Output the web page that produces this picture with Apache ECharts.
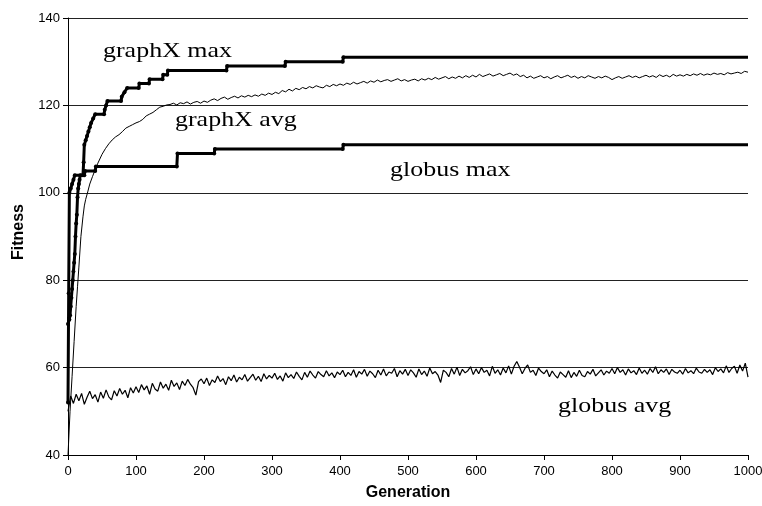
<!DOCTYPE html>
<html>
<head>
<meta charset="utf-8">
<title>Fitness vs Generation</title>
<script src="https://cdn.jsdelivr.net/npm/echarts/dist/echarts.min.js"></script>
<style>
  html, body { margin: 0; padding: 0; background: #fff; }
  #chart { width: 762px; height: 506px; }
</style>
</head>
<body>
<div id="chart"></div>
<script>
// x axis ticks
const genTicks = [0, 100, 200, 300, 400, 500, 600, 700, 800, 900, 1000];
const fitnessTicks = [40, 60, 80, 100, 120, 140];

// graphX max (start and end of each flat run)
const graphXMaxGen = [0, 2, 3, 4, 5, 6, 7, 8, 9, 10, 11, 12, 13, 14, 15, 16, 17, 18, 22, 23, 24, 26, 28, 30, 32, 34, 37, 40, 53, 54, 56, 58, 78, 79, 83, 87, 104, 105, 119, 120, 139, 140, 146, 147, 233, 234, 319, 320, 404, 405, 1000];
const graphXMaxVal = [70, 71, 72, 74, 76, 78, 80, 82, 84, 86, 90, 93, 95, 99, 101, 102, 103, 104, 104, 107, 111, 112, 113, 114, 115, 116, 117, 118, 118, 119, 120, 121, 121, 122, 123, 124, 124, 125, 125, 126, 126, 127, 127, 128, 128, 129, 129, 130, 130, 131, 131];

// globus max
const globusMaxGen = [0, 1, 2, 4, 6, 8, 10, 24, 25, 40, 41, 160, 161, 215, 216, 404, 405, 1000];
const globusMaxVal = [52, 77, 100, 101, 102, 103, 104, 104, 105, 105, 106, 106, 109, 109, 110, 110, 111, 111];

// graphX avg, early climb (irregular generations)
const graphXAvgEarlyGen = [0, 3, 6, 9, 12, 14, 16, 19, 22, 24, 26, 29, 32, 36, 40, 44, 50, 55, 60, 65, 70, 75, 80, 85, 90, 95, 100, 105, 110, 115, 120, 125, 130, 135, 140, 145];
const graphXAvgEarlyVal = [40, 50, 58, 66, 74, 78.5, 83, 90, 94.5, 97, 98.5, 100.2, 102, 103.7, 105.3, 106.8, 108.8, 110.1, 111.2, 112.1, 112.8, 113.3, 114.0, 114.8, 115.2, 115.6, 116.0, 116.3, 116.8, 117.6, 118.0, 118.4, 119.0, 119.6, 119.8, 120.1];
// graphX avg, every 5 generations from 150 to 1000
const graphXAvgLateStart = 150;
const graphXAvgLateStep = 5;
const graphXAvgLate = [
  120.2, 120.5, 120.1, 120.6, 120.4, 120.8, 120.3, 120.7, 120.9, 120.5, 121.0, 120.7, 121.2, 121.5, 121.1, 121.6, 121.9, 121.4, 121.8, 122.1, 121.7, 122.2, 121.9, 122.3, 122.0,
  122.4, 122.1, 122.6, 122.3, 122.8, 122.5, 123.0, 122.7, 123.4, 123.1, 123.7, 123.3, 123.9, 123.6, 124.1, 123.8, 124.3, 124.0, 124.5, 124.2, 124.0, 124.6, 124.3, 124.8, 124.5,
  124.9, 124.6, 125.1, 124.8, 125.3, 124.9, 125.2, 125.5, 125.1, 125.6, 125.3, 125.8, 125.4, 125.7, 125.9, 125.5, 125.8, 126.1, 125.6, 125.9, 125.5, 125.8, 126.0, 125.6, 126.1,
  125.8, 126.2, 125.9, 126.4, 126.0, 126.3, 126.6, 126.1, 126.5, 126.2, 126.7, 126.3, 126.8, 126.4, 126.9, 126.5, 127.1, 126.6, 126.9, 127.2, 126.7, 127.0, 127.3, 126.8, 127.1,
  127.4, 126.9, 127.2, 126.6, 126.9, 126.3, 126.7, 126.2, 126.5, 126.8, 126.3, 126.6, 126.1, 126.5, 126.8, 126.3, 126.6, 126.9, 126.4, 126.7, 126.2, 126.6, 126.3, 126.8, 126.5,
  126.2, 126.6, 126.3, 126.7, 126.4, 125.9, 126.3, 126.6, 126.2, 126.5, 126.8, 126.4, 126.7, 126.3, 126.6, 126.9, 126.5, 126.8, 126.4, 127.0, 126.6, 126.9, 126.5, 127.1, 126.7,
  127.0, 126.7, 127.1, 126.8, 127.2, 126.9, 127.3, 126.9, 127.2, 127.0, 127.4, 127.1, 127.3, 127.0, 127.5, 127.2, 127.4, 127.6, 127.3, 127.8, 127.6
];

// globus avg, every 4 generations from 0 to 1000
const globusAvgStep = 4;
const globusAvg = [
  50.0, 53.5, 51.8, 53.9, 52.4, 54.1, 51.6, 53.2, 54.6, 52.9, 53.8, 52.1, 54.4, 53.0, 54.9, 53.3, 52.6, 54.7, 53.5, 55.2, 53.9, 54.8, 53.1, 55.4, 54.2,
  55.6, 54.3, 56.1, 54.9, 55.8, 53.9, 56.4, 55.1, 54.6, 56.7, 55.3, 56.2, 54.8, 57.1, 55.7, 56.5, 55.0, 56.9, 55.9, 57.3, 56.2, 55.4, 53.7, 56.8, 57.4,
  56.3, 57.6, 55.9, 57.2, 56.6, 58.1, 56.8, 57.5, 56.1, 57.9, 57.0, 58.3, 56.7, 57.8, 57.2, 58.4, 56.9, 57.7, 58.5, 57.1, 58.0, 56.8, 58.6, 57.4, 58.2,
  57.6, 58.7, 57.3, 58.1, 56.9, 58.8, 57.7, 58.4, 57.5, 59.0, 58.0, 57.2, 58.9, 57.8, 59.2, 58.3, 57.6, 59.1, 58.4, 57.9, 59.3, 58.1, 58.8, 57.7, 59.0,
  58.4, 59.4, 57.9, 58.9, 58.2, 59.5, 57.8, 59.1, 58.5, 59.6, 58.0, 59.2, 58.6, 57.7, 59.4, 58.3, 59.7, 58.1, 59.0, 58.7, 59.8, 57.9, 59.3, 58.5, 59.6,
  58.2, 59.5, 58.8, 57.8, 59.7, 58.4, 59.2, 58.0, 59.9, 58.6, 59.1, 58.3, 56.6, 59.4, 58.9, 57.9, 59.8, 58.5, 60.1, 58.2, 59.6, 58.8, 59.3, 60.2, 58.4,
  59.7, 58.6, 60.0, 58.9, 59.4, 58.1, 60.3, 58.7, 59.5, 58.3, 59.9, 58.8, 60.4, 58.5, 60.3, 61.4, 60.1, 58.6, 59.8, 60.6, 58.9, 59.4, 58.2, 59.9, 59.1,
  58.6, 59.5, 57.9, 59.2, 58.3, 57.6, 59.0, 58.4, 57.8, 59.3, 57.7, 58.9, 58.0, 59.4, 58.2, 57.9, 59.1, 58.5, 59.6, 58.1, 58.8, 59.5, 58.3, 59.2, 58.7,
  59.8, 58.6, 60.0, 58.9, 59.5, 58.3, 59.7, 58.8, 59.3, 58.4, 59.9, 58.7, 59.4, 58.5, 59.8, 58.9, 60.2, 58.6, 59.5, 58.9, 59.7, 58.4, 59.6, 59.0, 58.7,
  59.4, 58.5, 59.8, 58.8, 59.3, 58.6, 59.9, 59.0, 58.7, 59.6, 58.9, 59.5, 58.4, 60.0, 59.1, 59.7, 58.8, 60.4, 58.9, 59.8, 60.3, 58.7, 60.6, 59.2, 61.0,
  57.8
];

const pairs = (xs, ys) => xs.map((x, i) => [x, ys[i]]);
const stepped = (start, step, ys) => ys.map((y, i) => [start + i * step, y]);

const graphXMax = pairs(graphXMaxGen, graphXMaxVal);
const globusMax = pairs(globusMaxGen, globusMaxVal);
const graphXAvg = pairs(graphXAvgEarlyGen, graphXAvgEarlyVal)
  .concat(stepped(graphXAvgLateStart, graphXAvgLateStep, graphXAvgLate));
const globusAvgData = stepped(0, globusAvgStep, globusAvg);

const chart = echarts.init(document.getElementById('chart'), null, { renderer: 'canvas' });

const serifLabel = (text, x, baseline) => ({
  type: 'text',
  x: x,
  y: baseline - 7,
  scaleX: 1.18,
  style: {
    text: text,
    fill: '#000',
    font: '22px "Liberation Serif", "Times New Roman", serif',
    textAlign: 'left',
    textVerticalAlign: 'middle'
  }
});

// dots on the max curves, none on the very last point
const dotSize = v => (v[0] >= 1000 ? 0 : 4);

const option = {
  animation: false,
  backgroundColor: '#fff',
  grid: { left: 68, right: 14, top: 18, bottom: 51, outerBoundsMode: 'none', containLabel: false },
  xAxis: {
    type: 'value',
    min: genTicks[0],
    max: genTicks[genTicks.length - 1],
    interval: 100,
    axisLine: { lineStyle: { color: '#000', width: 1 } },
    axisTick: { inside: false, length: 5, lineStyle: { color: '#000' } },
    axisLabel: {
      color: '#000', fontSize: 13, margin: 10,
      fontFamily: '"Liberation Sans", Arial, sans-serif',
      formatter: v => String(v),
      hideOverlap: false
    },
    splitLine: { show: false }
  },
  yAxis: {
    type: 'value',
    min: fitnessTicks[0],
    max: fitnessTicks[fitnessTicks.length - 1],
    interval: 20,
    axisLine: { show: true, lineStyle: { color: '#000', width: 1 } },
    axisTick: { show: true, inside: false, length: 5, lineStyle: { color: '#000' } },
    axisLabel: { color: '#000', fontSize: 13, margin: 8, fontFamily: '"Liberation Sans", Arial, sans-serif' },
    splitLine: { show: true, lineStyle: { color: '#222', width: 1 } }
  },
  graphic: [
    serifLabel('graphX max', 103, 58),
    serifLabel('graphX avg', 175, 127),
    serifLabel('globus max', 390, 177),
    serifLabel('globus avg', 558, 413),
    {
      type: 'text',
      x: 408,
      y: 493,
      style: {
        text: 'Generation',
        fill: '#000',
        font: 'bold 16px "Liberation Sans", Arial, sans-serif',
        textAlign: 'center',
        textVerticalAlign: 'middle'
      }
    },
    {
      type: 'text',
      x: 19,
      y: 232,
      rotation: Math.PI / 2,
      style: {
        text: 'Fitness',
        fill: '#000',
        font: 'bold 16px "Liberation Sans", Arial, sans-serif',
        textAlign: 'center',
        textVerticalAlign: 'middle'
      }
    }
  ],
  series: [
    {
      name: 'globus avg',
      type: 'line',
      data: globusAvgData,
      showSymbol: false,
      lineStyle: { color: '#000', width: 1.2 },
      z: 3
    },
    {
      name: 'graphX avg',
      type: 'line',
      data: graphXAvg,
      showSymbol: false,
      lineStyle: { color: '#000', width: 1 },
      z: 3
    },
    {
      name: 'globus max',
      type: 'line',
      data: globusMax,
      symbol: 'circle',
      symbolSize: dotSize,
      showAllSymbol: true,
      itemStyle: { color: '#000' },
      lineStyle: { color: '#000', width: 3 },
      z: 4
    },
    {
      name: 'graphX max',
      type: 'line',
      data: graphXMax,
      symbol: 'circle',
      symbolSize: dotSize,
      showAllSymbol: true,
      itemStyle: { color: '#000' },
      lineStyle: { color: '#000', width: 3 },
      z: 4
    }
  ]
};

chart.setOption(option);
</script>
</body>
</html>
